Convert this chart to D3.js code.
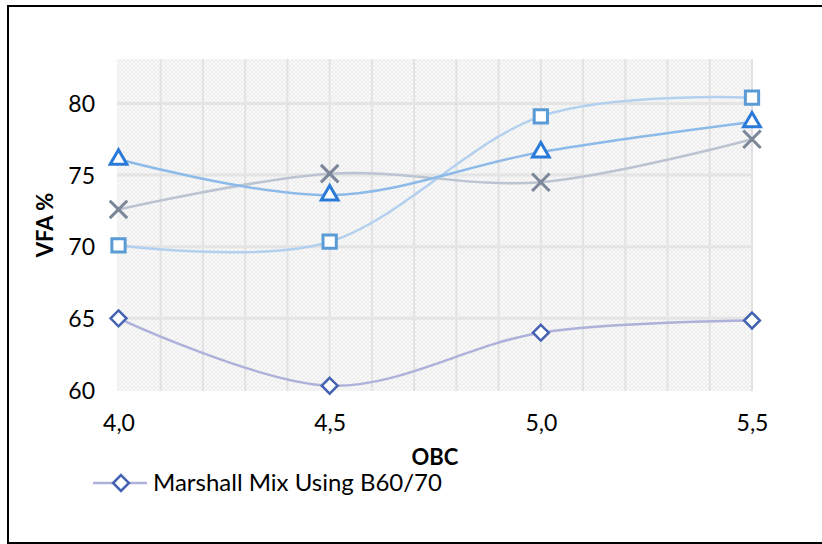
<!DOCTYPE html>
<html>
<head>
<meta charset="utf-8">
<script src="https://cdn.jsdelivr.net/npm/d3@7"></script>
<style>
  html, body { margin: 0; padding: 0; background: #fff; }
  svg { display: block; }
  text { font-family: Lato, "Liberation Sans", sans-serif; fill: #000; }
</style>
</head>
<body>
<svg id="chart" width="822" height="544"></svg>
<script>
// OBC (optimum bitumen content) categories
const obc = [4.0, 4.5, 5.0, 5.5];
const obcLabels = ["4,0", "4,5", "5,0", "5,5"];

// VFA % per mix
const vfaB6070   = [65.0, 60.3, 64.0, 64.85];
const vfaSquare  = [70.1, 70.35, 79.1, 80.4];
const vfaTriangle = [76.1, 73.6, 76.6, 78.7];
const vfaCross   = [72.6, 75.1, 74.5, 77.5];

const yTicks = [60, 65, 70, 75, 80];
const legendLabel = "Marshall Mix Using B60/70";

const svg = d3.select("#chart");

// outer frame
svg.append("rect")
  .attr("x", 8).attr("y", 6)
  .attr("width", 830).attr("height", 537)
  .attr("fill", "#fff").attr("stroke", "#000").attr("stroke-width", 2);

const x = d3.scaleLinear().domain([4.0, 5.5]).range([118.5, 752]);
const y = d3.scaleLinear().domain([60, 83.1]).range([390, 59]);

// hatched plot-area fill
const defs = svg.append("defs");
const pat = defs.append("pattern")
  .attr("id", "hatch").attr("patternUnits", "userSpaceOnUse")
  .attr("width", 4).attr("height", 4);
pat.append("rect").attr("width", 4).attr("height", 4).attr("fill", "#f8f8f8");
pat.append("path").attr("d", "M0,4 L4,0 M-1,1 L1,-1 M3,5 L5,3")
  .attr("stroke", "#ebebeb").attr("stroke-width", 1);
pat.append("path").attr("d", "M0,0 L4,4 M-1,3 L1,5 M3,-1 L5,1")
  .attr("stroke", "#f0f0f0").attr("stroke-width", 0.8);

const [px0, px1] = [117, 753];
const [py0, py1] = [y.range()[1], y.range()[0] + 1];

svg.append("rect")
  .attr("x", px0).attr("y", py0)
  .attr("width", px1 - px0).attr("height", py1 - py0)
  .attr("fill", "url(#hatch)");

// vertical gridlines every 0.1
const xGrid = d3.range(41, 56).map(d => d / 10);
svg.append("g").selectAll("line").data(xGrid).join("line")
  .attr("x1", d => x(d)).attr("x2", d => x(d))
  .attr("y1", py0).attr("y2", py1)
  .attr("stroke", "#e2e2e2").attr("stroke-width", 2);

// horizontal gridlines
svg.append("g").selectAll("line").data(yTicks.slice(1)).join("line")
  .attr("x1", px0).attr("x2", px1)
  .attr("y1", d => y(d)).attr("y2", d => y(d))
  .attr("stroke", "#e4e4e4").attr("stroke-width", 3);

// y axis labels
const yAxis = d3.axisLeft(y).tickValues(yTicks).tickSize(0).tickPadding(0)
  .tickFormat(d3.format("d"));
const gy = svg.append("g").attr("transform", "translate(95,0)").call(yAxis);
gy.select(".domain").remove();
gy.selectAll("text").attr("font-size", 23).attr("font-family", "Lato, sans-serif")
  .attr("fill", "#000").attr("dy", "0.35em");

// x axis labels
const xAxis = d3.axisBottom(x).tickValues(obc).tickSize(0).tickPadding(0)
  .tickFormat((d, i) => obcLabels[i]);
const gx = svg.append("g").attr("transform", "translate(0,423)").call(xAxis);
gx.select(".domain").remove();
gx.selectAll("text").attr("font-size", 23).attr("font-family", "Lato, sans-serif")
  .attr("fill", "#000").attr("dy", "0.35em");

// axis titles
svg.append("text").attr("x", 435).attr("y", 457).attr("dy", "0.35em")
  .attr("text-anchor", "middle").attr("font-size", 22).attr("font-weight", "bold")
  .text("OBC");
svg.append("text").attr("transform", "translate(45,225) rotate(-90)")
  .attr("dy", "0.35em").attr("text-anchor", "middle")
  .attr("font-size", 22).attr("font-weight", "bold").text("VFA %");

// series
const line = d3.line().x((d, i) => x(obc[i])).y(d => y(d)).curve(d3.curveCardinal.tension(0));

const symDiamond = d3.symbol().type(d3.symbolDiamond2).size(160);
const symSquare = d3.symbol().type(d3.symbolSquare2).size(225);
const symTriangle = d3.symbol().type(d3.symbolTriangle2).size(200);
const symCross = d3.symbol().type(d3.symbolX).size(200);

const series = [
  { vals: vfaCross, line: "#bcc3d1", mark: "#7b8699", sym: symCross, sw: 3, fill: "none" },
  { vals: vfaSquare, line: "#b3d0ee", mark: "#5b9bd5", sym: symSquare, sw: 3, fill: "#fff" },
  { vals: vfaTriangle, line: "#8dbae8", mark: "#2a7bd8", sym: symTriangle, sw: 3, fill: "#fff" },
  { vals: vfaB6070, line: "#aeb1da", mark: "#4462b1", sym: symDiamond, sw: 2.5, fill: "#fff" }
];

series.forEach(s => {
  const g = svg.append("g");
  g.append("path").attr("d", line(s.vals))
    .attr("fill", "none").attr("stroke", s.line).attr("stroke-width", 2.5);
  g.selectAll("path.m").data(s.vals).join("path").attr("class", "m")
    .attr("d", s.sym)
    .attr("transform", (d, i) => `translate(${x(obc[i])},${y(d)})`)
    .attr("fill", s.fill).attr("stroke", s.mark).attr("stroke-width", s.sw);
});

// legend
const lg = svg.append("g").attr("transform", "translate(0,483)");
lg.append("line").attr("x1", 93).attr("x2", 147).attr("y1", 0).attr("y2", 0)
  .attr("stroke", "#aeb1da").attr("stroke-width", 2.5);
lg.append("path").attr("d", symDiamond).attr("transform", "translate(121,0)")
  .attr("fill", "#fff").attr("stroke", "#4462b1").attr("stroke-width", 2.5);
lg.append("text").attr("x", 153).attr("y", 0).attr("dy", "0.35em")
  .attr("font-size", 24).text(legendLabel);
</script>
</body>
</html>
